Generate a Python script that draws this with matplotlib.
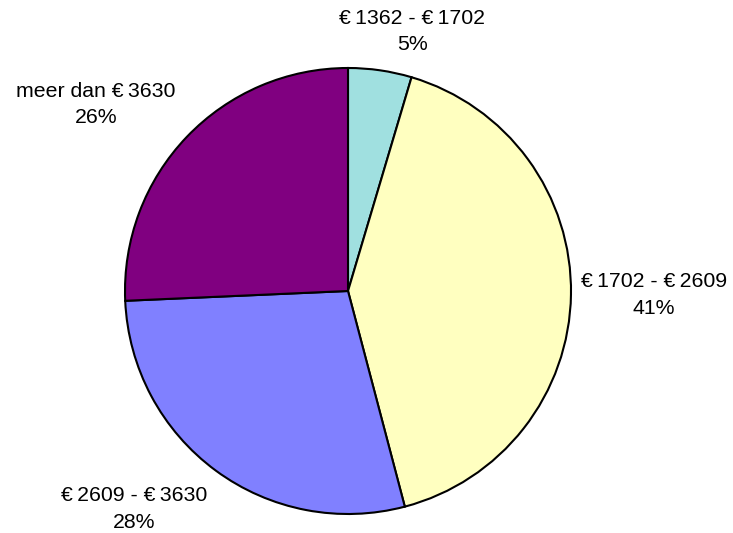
import matplotlib
matplotlib.use('Agg')
from matplotlib import pyplot as plt

plt.rcParams['font.family'] = ['Liberation Sans', 'DejaVu Sans']

labels = ['\u20ac\u20091362 - \u20ac\u20091702', '\u20ac\u20091702 - \u20ac\u20092609',
          '\u20ac\u20092609 - \u20ac\u20093630', 'meer dan \u20ac\u20093630']
# shares; labels show the rounded percent
shares = [4.6, 41.3, 28.4, 25.7]
pct_labels = ['5%', '41%', '28%', '26%']
colors = ['#A0E0E0', '#FFFFC0', '#8080FF', '#800080']

# label positions in axes data units (pie radius = 1)
label_pos = [(0.289, 1.164), (1.372, -0.018), (-0.960, -0.978), (-1.130, 0.836)]

W, H = 733, 533
fig = plt.figure(figsize=(W / 100, H / 100), dpi=100)
cx, cy, r = 348, 291, 223
ax = fig.add_axes([(cx - r) / W, (H - cy - r) / H, 2 * r / W, 2 * r / H])
ax.pie(shares, colors=colors, startangle=90, counterclock=False, radius=1,
       wedgeprops=dict(edgecolor='black', linewidth=1.5))
ax.set_xlim(-1, 1)
ax.set_ylim(-1, 1)
ax.set_aspect('equal')
ax.axis('off')

for lab, pct, (x, y) in zip(labels, pct_labels, label_pos):
    ax.text(x, y, f'{lab}\n{pct}', ha='center', va='center', fontsize=15.3,
            linespacing=1.5, clip_on=False)

fig.savefig('out.png', dpi=100)
